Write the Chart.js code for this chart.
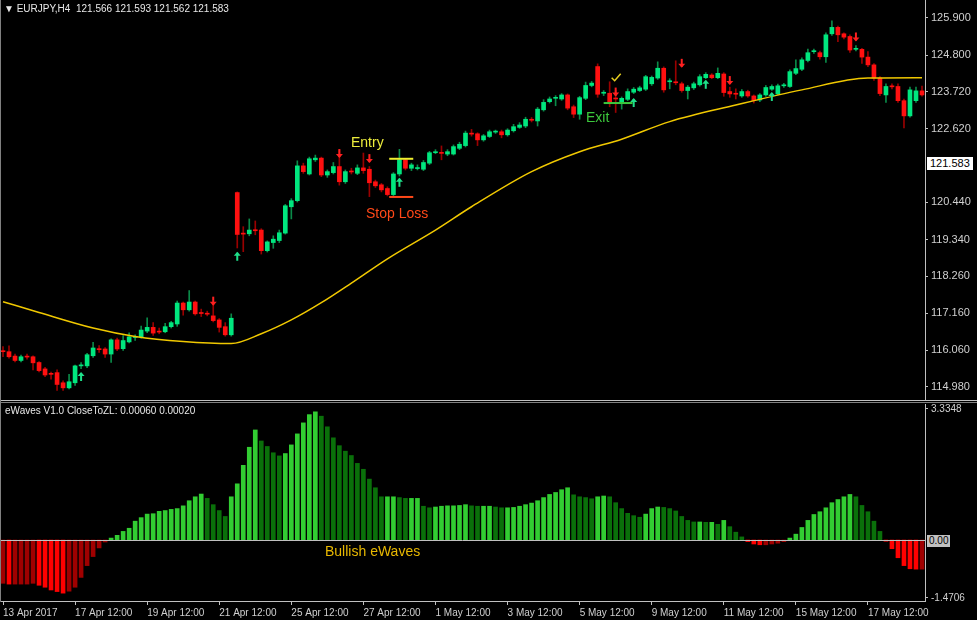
<!DOCTYPE html>
<html><head><meta charset="utf-8">
<script src="https://cdn.jsdelivr.net/npm/chart.js@4.4.1/dist/chart.umd.min.js"></script>
<style>
body{margin:0;background:#000;width:977px;height:620px;overflow:hidden;position:relative;font-family:"Liberation Sans",Arial,sans-serif}
.a{position:absolute;white-space:nowrap}
</style></head><body>
<div class="a" style="left:0;top:0;width:977px;height:400px"><canvas id="c1"></canvas></div>
<div class="a" style="left:0;top:400px;width:977px;height:1px;background:#c0c0c0"></div>
<div class="a" style="left:0;top:402px;width:977px;height:1px;background:#808080"></div>
<div class="a" style="left:0;top:404px;width:977px;height:216px"><canvas id="c2"></canvas></div>
<div class="a" style="left:0;top:0;width:1px;height:602px;background:#808080"></div>
<div class="a" style="left:4px;top:3px;font-size:10px;color:#e8e8e8">▼ EURJPY,H4&nbsp; 121.566 121.593 121.562 121.583</div>
<div class="a" style="left:5px;top:405px;font-size:10px;color:#e8e8e8">eWaves V1.0 CloseToZL: 0.00060 0.00020</div>
<div class="a" style="left:351px;top:134px;font-size:14px;color:#ecec3c">Entry</div>
<div class="a" style="left:366px;top:205px;font-size:14px;color:#ff4818">Stop Loss</div>
<div class="a" style="left:586px;top:109px;font-size:14px;color:#3cc83c">Exit</div>
<div class="a" style="left:325px;top:543px;font-size:14px;color:#e8b800">Bullish eWaves</div>
<div id="curBox" class="a" style="left:927px;top:157px;font-size:11px;color:#000;background:#fff;padding:0 3px;line-height:13px">121.583</div>
<div id="zeroBox" class="a" style="left:927px;top:534px;font-size:10px;color:#000;background:#c0c0c0;padding:0 2px;line-height:12px">0.00</div>
<script>
const openP=[116.03,116.02,115.89,115.76,115.87,115.87,115.70,115.51,115.36,115.40,115.10,114.95,115.10,115.60,115.60,115.90,116.09,116.10,115.95,116.37,116.11,116.31,116.44,116.46,116.63,116.74,116.61,116.61,116.76,116.84,117.46,117.26,117.49,117.16,117.14,117.08,116.96,116.76,116.52,120.73,119.51,119.51,119.61,119.62,119.01,119.25,119.31,119.53,120.31,120.49,121.52,121.28,121.70,121.75,121.25,121.32,121.50,121.05,121.35,121.30,121.46,121.42,121.05,120.96,120.85,120.67,121.28,121.70,121.45,121.44,121.42,121.60,121.91,121.90,121.87,121.87,122.04,122.12,122.47,122.47,122.29,122.39,122.52,122.53,122.44,122.56,122.66,122.70,122.88,122.85,123.18,123.42,123.52,123.50,123.62,123.27,123.05,123.52,123.90,124.46,123.67,123.67,123.52,123.42,123.49,123.70,123.75,123.79,123.95,124.12,124.41,124.01,123.99,123.95,123.75,123.83,123.92,124.13,124.21,124.13,124.24,123.72,123.65,123.59,123.72,123.59,123.47,123.62,123.79,123.65,123.89,123.87,124.26,124.38,124.64,124.90,124.87,124.75,125.43,125.62,125.43,125.35,124.97,124.97,124.74,124.51,124.12,123.62,123.87,123.87,123.45,123.00,123.45,123.74];
const highP=[116.17,116.19,115.95,115.92,115.95,115.90,115.73,115.56,115.42,115.48,115.16,115.35,115.62,115.70,115.97,116.30,116.20,116.14,116.40,116.42,116.50,116.58,116.52,116.78,117.02,116.88,116.72,116.86,116.92,117.52,117.49,117.83,117.52,117.28,117.22,117.42,117.00,116.88,117.14,120.75,119.72,119.95,119.89,119.66,119.30,119.45,119.62,120.38,120.55,121.67,121.60,121.78,121.84,121.78,121.40,121.62,121.99,121.40,121.45,121.55,121.90,121.50,121.10,121.00,120.90,121.32,122.01,121.74,121.60,121.55,121.68,121.95,122.00,122.11,122.00,122.14,122.22,122.55,122.60,122.50,122.45,122.58,122.58,122.58,122.62,122.75,122.80,122.96,122.95,123.25,123.48,123.56,123.60,123.66,123.65,123.32,123.58,124.00,124.02,124.54,123.75,124.01,123.76,123.56,123.80,123.84,123.88,124.20,124.18,124.60,124.45,124.10,124.63,124.00,123.90,124.00,124.22,124.28,124.25,124.42,124.28,123.85,123.80,123.78,123.76,123.62,123.66,123.90,123.92,123.94,123.96,124.36,124.66,124.72,124.98,124.98,124.92,125.46,125.81,125.66,125.46,125.40,125.08,125.00,124.90,124.55,124.16,123.95,123.95,123.95,123.50,123.85,123.85,123.88];
const lowP=[115.87,115.83,115.72,115.72,115.80,115.48,115.42,115.28,115.21,114.87,114.87,114.92,115.02,115.52,115.55,115.85,116.00,115.85,115.70,116.05,116.06,116.28,116.35,116.42,116.58,116.50,116.55,116.58,116.72,116.77,117.10,117.22,117.10,117.06,117.08,116.90,116.60,116.48,116.48,119.09,118.98,119.45,119.48,118.91,118.97,119.08,119.25,119.50,119.95,120.45,121.30,121.25,121.65,121.20,121.18,121.28,120.95,121.00,121.28,121.26,121.30,120.61,120.88,120.75,120.63,120.63,121.22,121.40,121.38,121.40,121.38,121.56,121.88,121.70,121.82,121.84,122.00,122.08,122.40,122.12,122.25,122.36,122.48,122.35,122.40,122.52,122.63,122.65,122.82,122.70,123.14,123.38,123.30,123.46,123.18,122.95,122.90,123.48,123.86,123.55,123.60,123.27,123.10,123.20,123.45,123.66,123.72,123.75,123.90,124.08,123.70,123.80,123.92,123.70,123.50,123.78,123.88,124.10,124.10,124.10,123.58,123.55,123.50,123.55,123.55,123.38,123.42,123.58,123.75,123.62,123.84,123.84,124.22,124.34,124.60,124.85,124.68,124.58,125.38,125.20,125.28,124.88,124.92,124.55,124.46,124.05,123.60,123.40,123.80,123.40,122.64,122.96,123.40,123.58];
const closeP=[116.02,115.87,115.76,115.87,115.86,115.69,115.46,115.33,115.35,115.05,114.95,115.13,115.60,115.62,115.93,116.13,116.08,115.95,116.37,116.10,116.35,116.46,116.44,116.66,116.74,116.57,116.60,116.76,116.88,117.46,117.26,117.49,117.14,117.15,117.13,116.94,116.74,116.52,117.01,119.49,119.50,119.62,119.60,119.01,119.27,119.35,119.54,120.34,120.49,121.52,121.35,121.73,121.75,121.25,121.35,121.50,121.05,121.35,121.34,121.46,121.38,121.02,120.93,120.81,120.67,121.28,121.70,121.45,121.55,121.47,121.62,121.91,121.92,121.89,121.94,122.09,122.16,122.49,122.46,122.29,122.41,122.53,122.53,122.44,122.58,122.68,122.73,122.90,122.87,123.20,123.40,123.50,123.52,123.62,123.23,123.05,123.54,123.90,123.97,123.64,123.67,123.38,123.50,123.52,123.72,123.79,123.83,124.16,124.14,124.41,123.77,124.02,123.98,123.75,123.85,123.95,124.16,124.23,124.13,124.26,123.69,123.65,123.64,123.72,123.59,123.45,123.62,123.84,123.87,123.89,123.89,124.31,124.40,124.66,124.87,124.91,124.75,125.40,125.62,125.40,125.33,124.95,124.98,124.74,124.51,124.12,123.66,123.87,123.86,123.45,123.00,123.77,123.74,123.62];
const maIndex=[0,6,15,22,30,38,43,48,53,58,64,72,78,88,96,103,111,122,133,144,153];
const maValue=[117.50,117.18,116.72,116.47,116.32,116.26,116.55,116.96,117.47,118.05,118.77,119.62,120.31,121.35,121.94,122.31,122.83,123.32,123.77,124.12,124.13];
const ewaves=[-1.1,-1.12,-1.12,-1.12,-1.12,-1.1,-1.15,-1.2,-1.27,-1.31,-1.35,-1.3,-1.2,-0.95,-0.65,-0.42,-0.2,-0.05,
0.05,0.12,0.22,0.3,0.48,0.57,0.66,0.67,0.73,0.75,0.78,
0.8,0.87,1.0,1.1,1.17,1.06,0.9,0.75,0.6,1.1,
1.43,1.9,2.36,2.8,2.52,2.38,2.22,2.14,2.2,2.42,
2.7,2.98,3.19,3.26,3.15,2.88,2.6,2.4,2.26,2.15,
1.95,1.8,1.55,1.33,1.1,1.1,1.1,1.08,1.06,1.06,1.06,
0.86,0.82,0.84,0.86,0.87,0.87,0.88,0.9,0.87,0.86,0.86,
0.86,0.84,0.82,0.82,0.83,0.86,0.9,0.94,1.0,1.08,
1.16,1.21,1.28,1.33,1.15,1.1,1.08,1.05,1.1,1.12,1.1,
0.95,0.8,0.68,0.62,0.58,0.66,0.8,0.84,0.83,0.8,
0.74,0.6,0.5,0.46,0.46,0.45,0.45,0.4,0.5,0.34,0.2,0.08,
-0.04,-0.1,-0.12,-0.12,-0.1,-0.08,-0.04,
0.05,0.15,0.32,0.5,0.65,0.72,0.82,0.95,1.03,1.1,1.16,1.1,0.88,0.72,0.48,0.22,
-0.03,-0.22,-0.45,-0.65,-0.73,-0.74,-0.74];
const dateTickIndex=[0,12,24,36,48,60,72,84,96,108,120,132,144];
const dateTickLabel=["13 Apr 2017","17 Apr 12:00","19 Apr 12:00","21 Apr 12:00","25 Apr 12:00","27 Apr 12:00","1 May 12:00","3 May 12:00","5 May 12:00","9 May 12:00","11 May 12:00","15 May 12:00","17 May 12:00"];
const priceTicks=[125.900,124.800,123.720,122.620,120.440,119.340,118.260,117.160,116.060,114.980];
const currentPrice=121.583;
const ewTicks=[3.3348,-1.4706];
const upArrows=[[13,115.27],[39,118.83],[66,121.02],[105,123.38],[117,123.92],[128,123.56]];
const downArrows=[[35,117.53],[56,121.90],[61,121.75],[102,123.72],[113,124.57],[121,124.06],[142,125.35]];
const checkMark=[102,124.13];
const entryLine=[64.3,68.3,121.73], stopLine=[64.3,68.3,120.60], exitLine=[100,104.8,123.38];

const N=closeP.length;
const labels=[...Array(N).keys()].map(String);
const up=closeP.map((c,i)=>c>=openP[i]);
const bodyCol=up.map(u=>u?'#00e67e':'#ff1010');
const wickCol=up.map(u=>u?'#0a8a48':'#9a0000');
Chart.defaults.font={family:'"Liberation Sans", Arial, sans-serif',size:11};
const noPad=s=>{s.paddingTop=0;s.paddingBottom=0;};

const overlay={id:'ov',afterDatasetsDraw(ch){
  const x=ch.scales.x,y=ch.scales.y,g=ch.ctx;
  const step=x.getPixelForValue(1)-x.getPixelForValue(0),x0=x.getPixelForValue(0);
  g.save();g.lineWidth=2;
  const arrow=(i,p,dir,col)=>{const px=x.getPixelForValue(i),py=y.getPixelForValue(p);
    g.strokeStyle=col;g.fillStyle=col;g.beginPath();g.moveTo(px,py-4*dir);g.lineTo(px,py+4*dir);g.stroke();
    g.beginPath();g.moveTo(px,py-5*dir);g.lineTo(px-3.5,py-1*dir);g.lineTo(px+3.5,py-1*dir);g.closePath();g.fill();};
  upArrows.forEach(a=>arrow(a[0],a[1],1,'#1ee08a'));
  downArrows.forEach(a=>arrow(a[0],a[1],-1,'#ff2020'));
  const seg=(s,col)=>{g.strokeStyle=col;g.lineWidth=2;g.beginPath();const yy=y.getPixelForValue(s[2]);
    g.moveTo(x0+s[0]*step,yy);g.lineTo(x0+s[1]*step,yy);g.stroke();};
  seg(entryLine,'#f0f030');seg(stopLine,'#ff4818');seg(exitLine,'#3cc83c');
  const cx=x.getPixelForValue(checkMark[0]),cy=y.getPixelForValue(checkMark[1]);
  g.strokeStyle='#e8d020';g.lineWidth=1.5;g.beginPath();g.moveTo(cx-4,cy);g.lineTo(cx-1,cy+3);g.lineTo(cx+5,cy-4);g.stroke();
  g.restore();
  document.getElementById('curBox').style.top=(y.getPixelForValue(currentPrice)-7)+'px';
}};

new Chart(document.getElementById('c1'),{
  type:'bar',
  data:{labels,datasets:[
    {type:'line',data:maIndex.map((v,i)=>({x:String(v),y:maValue[i]})),borderColor:'#f0c800',borderWidth:1.5,pointRadius:0,cubicInterpolationMode:'monotone',order:0},
    {data:lowP.map((l,i)=>[l,highP[i]]),backgroundColor:wickCol,barThickness:1,grouped:false,order:2},
    {data:openP.map((o,i)=>[Math.min(o,closeP[i]),Math.max(o,closeP[i])]),backgroundColor:bodyCol,barThickness:4,minBarLength:1,grouped:false,order:1}
  ]},
  options:{responsive:true,maintainAspectRatio:false,animation:false,devicePixelRatio:1,
    layout:{padding:0},
    plugins:{legend:{display:false},tooltip:{enabled:false}},
    scales:{
      x:{display:false,offset:true},
      y:{position:'right',min:114.59,max:126.43,
        afterBuildTicks(s){s.ticks=priceTicks.map(v=>({value:v}));},
        afterFit(s){s.width=52;noPad(s);},
        ticks:{color:'#d0d0d0',padding:3,callback:v=>Number(v).toFixed(3)},
        grid:{drawOnChartArea:false,drawTicks:true,tickLength:3,color:'#c0c0c0'},
        border:{color:'#c0c0c0'}}
    }},
  plugins:[overlay]
});

const ewCol=ewaves.map((v,i)=>{const p=i>0?ewaves[i-1]:v;
  if(v>=0) return v>=p?'#32cd32':'#0a700a';
  return v<p?'#ff0000':'#a00000';});
const zeroPlug={id:'zl',afterDatasetsDraw(ch){const y=ch.scales.y,g=ch.ctx,yy=Math.round(y.getPixelForValue(0))+0.5;
  g.save();g.strokeStyle='#c0c0c0';g.lineWidth=1;g.beginPath();g.moveTo(ch.chartArea.left,yy);g.lineTo(ch.chartArea.right,yy);g.stroke();g.restore();
  document.getElementById('zeroBox').style.top=(404+yy-6)+'px';}};
new Chart(document.getElementById('c2'),{
  type:'bar',
  data:{labels,datasets:[{data:ewaves,backgroundColor:ewCol,barThickness:4}]},
  options:{responsive:true,maintainAspectRatio:false,animation:false,devicePixelRatio:1,
    layout:{padding:0},
    plugins:{legend:{display:false},tooltip:{enabled:false}},
    scales:{
      x:{offset:true,
        afterBuildTicks(s){s.ticks=dateTickIndex.map(v=>({value:v}));},
        afterFit(s){s.height=19;s.paddingLeft=0;s.paddingRight=0;},
        ticks:{color:'#d0d0d0',font:{size:10},autoSkip:false,maxRotation:0,align:'start',padding:2,
          callback:(v)=>{const k=dateTickIndex.indexOf(v);return k>=0?dateTickLabel[k]:'';}},
        grid:{drawOnChartArea:false,drawTicks:true,tickLength:4,color:'#c0c0c0',offset:false},
        border:{color:'#c0c0c0'}},
      y:{position:'right',min:-1.55,max:3.46,
        afterBuildTicks(s){s.ticks=ewTicks.map(v=>({value:v}));},
        afterFit(s){s.width=52;noPad(s);},
        ticks:{color:'#d0d0d0',font:{size:10},padding:3,callback:v=>String(v)},
        grid:{drawOnChartArea:false,drawTicks:true,tickLength:3,color:'#c0c0c0'},
        border:{color:'#c0c0c0'}}
    }},
  plugins:[zeroPlug]
});
</script></body></html>
